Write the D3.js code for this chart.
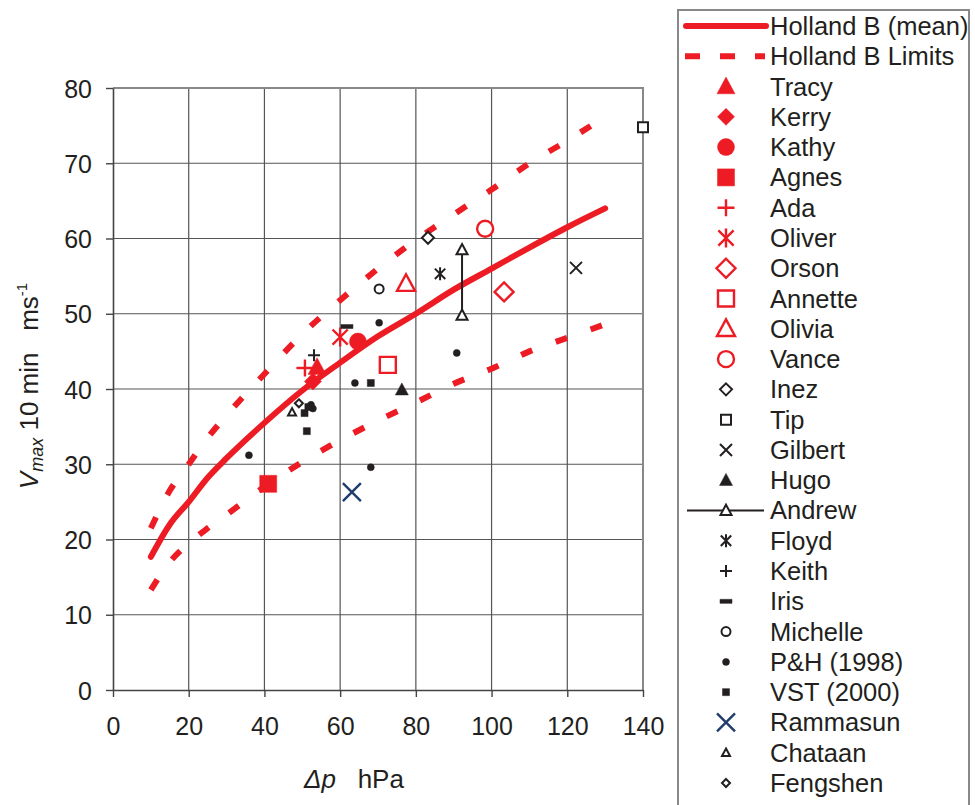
<!DOCTYPE html>
<html>
<head>
<meta charset="utf-8">
<script src="https://cdn.jsdelivr.net/npm/d3@7"></script>
<style>
  body { margin: 0; background: #fff; }
  svg { display: block; }
  text { font-family: "Liberation Sans", Arial, sans-serif; fill: #231f20; }
</style>
</head>
<body>
<svg id="chart" width="975" height="805"></svg>
<script>

// Holland B curves
const hollandDp    = [10, 15, 20, 25, 30, 40, 50, 60, 70, 80, 90, 100, 110, 120, 130];
const hollandMean  = [17.7, 22, 25, 28.2, 30.8, 35.5, 39.8, 43.5, 47, 50, 53.2, 56, 58.8, 61.5, 64];
const hollandUpper = [21.5, 26.5, 30, 33.5, 36.5, 42, 47.3, 51.8, 56, 59.8, 63.2, 66.5, 70, 73, 76.2];
const hollandLower = [13.3, 17, 19.5, 21.5, 23.3, 27, 30.3, 33.2, 35.8, 38.2, 40.7, 42.7, 45, 46.8, 48.6];

// storm observations [dp, vmax]
const tracy    = [[53.9, 42.9]];
const kerry    = [[52.8, 41.0]];
const kathy    = [[64.7, 46.3]];
const agnes    = [[41.0, 27.4]];
const ada      = [[50.7, 42.8]];
const oliver   = [[60.0, 46.9]];
const orson    = [[103.3, 52.9]];
const annette  = [[72.6, 43.2]];
const olivia   = [[77.4, 54.0]];
const vance    = [[98.3, 61.3]];
const inez     = [[83.2, 60.1]];
const tip      = [[140, 74.8]];
const gilbert  = [[122.3, 56.1]];
const hugo     = [[76.3, 39.9]];
const andrew   = [[92.2, 58.5], [92.2, 49.8]];
const floyd    = [[86.4, 55.3]];
const keith    = [[53.1, 44.5]];
const iris     = [[61.8, 48.3]];
const michelle = [[70.3, 53.3]];
const ph1998   = [[70.3, 48.8], [63.9, 40.8], [35.9, 31.2], [68.1, 29.6], [52.3, 37.9], [52.8, 37.4], [90.8, 44.8]];
const vst2000  = [[68.1, 40.8], [51.2, 34.4], [50.6, 36.8], [51.6, 37.6]];
const rammasun = [[63.1, 26.3]];
const chataan  = [[47.3, 36.9]];
const fengshen = [[49.1, 38.1]];

const xTicks = [0, 20, 40, 60, 80, 100, 120, 140];
const yTicks = [0, 10, 20, 30, 40, 50, 60, 70, 80];

const RED = "#ed1c24", BLACK = "#231f20", NAVY = "#1f3d6b";

const series = [
    { name: "Tracy",       pts: tracy,    shape: "triangle", size: 18, color: RED,   fill: true },
    { name: "Kerry",       pts: kerry,    shape: "diamond",  size: 17, color: RED,   fill: true },
    { name: "Kathy",       pts: kathy,    shape: "circle",   size: 17, color: RED,   fill: true },
    { name: "Agnes",       pts: agnes,    shape: "square",   size: 17, color: RED,   fill: true },
    { name: "Ada",         pts: ada,      shape: "plus",     size: 17, color: RED,   fill: false },
    { name: "Oliver",      pts: oliver,   shape: "asterisk", size: 19, color: RED,   fill: false },
    { name: "Orson",       pts: orson,    shape: "diamond",  size: 19, color: RED,   fill: false },
    { name: "Annette",     pts: annette,  shape: "square",   size: 16, color: RED,   fill: false },
    { name: "Olivia",      pts: olivia,   shape: "triangle", size: 18, color: RED,   fill: false },
    { name: "Vance",       pts: vance,    shape: "circle",   size: 16, color: RED,   fill: false },
    { name: "Inez",        pts: inez,     shape: "diamond",  size: 12, color: BLACK, fill: false },
    { name: "Tip",         pts: tip,      shape: "square",   size: 10, color: BLACK, fill: false },
    { name: "Gilbert",     pts: gilbert,  shape: "times",    size: 12, color: BLACK, fill: false },
    { name: "Hugo",        pts: hugo,     shape: "triangle", size: 13, color: BLACK, fill: true },
    { name: "Andrew",      pts: andrew,   shape: "triangle", size: 11, color: BLACK, fill: false, joined: true },
    { name: "Floyd",       pts: floyd,    shape: "asterisk", size: 13, color: BLACK, fill: false },
    { name: "Keith",       pts: keith,    shape: "plus",     size: 12, color: BLACK, fill: false },
    { name: "Iris",        pts: iris,     shape: "dash",     size: 12, color: BLACK, fill: true },
    { name: "Michelle",    pts: michelle, shape: "circle",   size: 9,  color: BLACK, fill: false },
    { name: "P&H (1998)",  pts: ph1998,   shape: "circle",   size: 7,  color: BLACK, fill: true },
    { name: "VST (2000)",  pts: vst2000,  shape: "square",   size: 7,  color: BLACK, fill: true },
    { name: "Rammasun",    pts: rammasun, shape: "times",    size: 18, color: NAVY,  fill: false },
    { name: "Chataan",     pts: chataan,  shape: "triangle", size: 8,  color: BLACK, fill: false },
    { name: "Fengshen",    pts: fengshen, shape: "diamond",  size: 8,  color: BLACK, fill: false }
];

const svg = d3.select("#chart");

const x = d3.scaleLinear().domain([0, 140]).range([113, 643]);
const y = d3.scaleLinear().domain([0, 80]).range([690, 88]);

// grid
svg.append("g")
    .selectAll("line")
    .data(xTicks.slice(1, -1))
    .join("line")
    .attr("x1", d => x(d)).attr("x2", d => x(d))
    .attr("y1", y(0)).attr("y2", y(80))
    .attr("stroke", "#555").attr("stroke-width", 1.2);

svg.append("g")
    .selectAll("line")
    .data(yTicks.slice(1, -1))
    .join("line")
    .attr("x1", x(0)).attr("x2", x(140))
    .attr("y1", d => y(d)).attr("y2", d => y(d))
    .attr("stroke", "#555").attr("stroke-width", 1.2);

// top / right frame
svg.append("path")
    .attr("d", `M${x(0)},${y(80)}H${x(140)}V${y(0)}`)
    .attr("fill", "none").attr("stroke", "#888").attr("stroke-width", 2);

// axes
const xAxis = d3.axisBottom(x).tickValues(xTicks).tickSize(7).tickPadding(20).tickSizeOuter(0);
const yAxis = d3.axisLeft(y).tickValues(yTicks).tickSize(7).tickPadding(14).tickSizeOuter(0);

const gx = svg.append("g").attr("transform", `translate(0,${y(0)})`).call(xAxis);
const gy = svg.append("g").attr("transform", `translate(${x(0)},0)`).call(yAxis);

[gx, gy].forEach(g => {
    g.select(".domain").attr("stroke", "#444").attr("stroke-width", 1.6);
    g.selectAll(".tick line").attr("stroke", "#444").attr("stroke-width", 1.4);
    g.selectAll(".tick text").attr("font-size", 25).attr("fill", BLACK)
        .attr("font-family", "'Liberation Sans', Arial, sans-serif");
});
gx.selectAll(".tick text").attr("dy", "0.71em");
gy.selectAll(".tick text").attr("dy", "0.36em");

// axis titles
const xt = svg.append("text")
    .attr("x", 354).attr("y", 788)
    .attr("text-anchor", "middle").attr("font-size", 26);
xt.append("tspan").attr("font-style", "italic").text("\u0394p");
xt.append("tspan").text("\u00a0\u00a0\u00a0hPa");

const yt = svg.append("text")
    .attr("transform", "translate(38,386) rotate(-90)")
    .attr("text-anchor", "middle").attr("font-size", 26);
yt.append("tspan").attr("font-style", "italic").text("V");
yt.append("tspan").attr("font-style", "italic").attr("font-size", 18).attr("dy", 5).text("max");
yt.append("tspan").attr("dy", -5).text(" 10 min \u00a0\u00a0ms");
yt.append("tspan").attr("font-size", 15).attr("dy", -11).text("-1");

// Holland curves
const line = d3.line().x(d => x(d[0])).y(d => y(d[1])).curve(d3.curveMonotoneX);
const zipCurve = vals => hollandDp.map((d, i) => [d, vals[i]]);

svg.append("path")
    .attr("d", line(zipCurve(hollandUpper)))
    .attr("fill", "none").attr("stroke", RED).attr("stroke-width", 6)
    .attr("stroke-dasharray", "12,25");
svg.append("path")
    .attr("d", line(zipCurve(hollandLower)))
    .attr("fill", "none").attr("stroke", RED).attr("stroke-width", 6)
    .attr("stroke-dasharray", "12,25");
svg.append("path")
    .attr("d", line(zipCurve(hollandMean)))
    .attr("fill", "none").attr("stroke", RED).attr("stroke-width", 6)
    .attr("stroke-linecap", "round");

// marker shapes
function shapePath(shape, s) {
    const h = s / 2;
    switch (shape) {
        case "triangle": return `M0,${-h * 1.05}L${h},${h * 0.8}L${-h},${h * 0.8}Z`;
        case "diamond":  return `M0,${-h}L${h},0L0,${h}L${-h},0Z`;
        case "square":   return `M${-h},${-h}H${h}V${h}H${-h}Z`;
        case "plus":     return `M${-h},0H${h}M0,${-h}V${h}`;
        case "times":    return `M${-h},${-h}L${h},${h}M${h},${-h}L${-h},${h}`;
        case "asterisk": {
            const k = h * 0.8;
            return `M${-k},${-k}L${k},${k}M${k},${-k}L${-k},${k}M0,${-h}V${h}`;
        }
        case "dash":     return `M${-h},-2H${h}V2H${-h}Z`;
        case "circle": {
            const p = d3.path();
            p.arc(0, 0, h, 0, 2 * Math.PI);
            p.closePath();
            return p.toString();
        }
    }
}

function styleMarker(sel, s) {
    const strokeOnly = s.shape === "plus" || s.shape === "times" || s.shape === "asterisk";
    sel.attr("d", shapePath(s.shape, s.size))
        .attr("fill", s.fill ? s.color : (strokeOnly ? "none" : "#fff"))
        .attr("stroke", s.color)
        .attr("stroke-width", s.fill && !strokeOnly ? 0.5 : (s.size > 14 ? 2.4 : 2));
}

// markers
const markers = svg.append("g");
series.forEach(s => {
    if (s.joined) {
        markers.append("path")
            .attr("d", d3.line().x(d => x(d[0])).y(d => y(d[1]))(s.pts))
            .attr("stroke", s.color).attr("stroke-width", 2).attr("fill", "none");
    }
    markers.selectAll(null)
        .data(s.pts)
        .join("path")
        .attr("transform", d => `translate(${x(d[0])},${y(d[1])})`)
        .call(styleMarker, s);
});

// legend
const legend = svg.append("g");
legend.append("rect")
    .attr("x", 678).attr("y", 10).attr("width", 291).attr("height", 820)
    .attr("fill", "#fff").attr("stroke", "#888").attr("stroke-width", 2);

const legendRows = [
    { name: "Holland B (mean)", kind: "mean" },
    { name: "Holland B Limits", kind: "limits" }
].concat(series.map(s => ({ name: s.name, kind: "marker", s })));

const rowY = d3.scaleLinear().domain([0, 1]).range([35, 65.28]);

legendRows.forEach((r, i) => {
    const by = rowY(i);
    const cy = by - 9;
    if (r.kind === "mean") {
        legend.append("line")
            .attr("x1", 686).attr("x2", 766).attr("y1", cy).attr("y2", cy)
            .attr("stroke", RED).attr("stroke-width", 6).attr("stroke-linecap", "round");
    } else if (r.kind === "limits") {
        legend.append("line")
            .attr("x1", 685).attr("x2", 765).attr("y1", cy).attr("y2", cy)
            .attr("stroke", RED).attr("stroke-width", 6).attr("stroke-dasharray", "15,20");
    } else {
        if (r.s.joined) {
            legend.append("line")
                .attr("x1", 687).attr("x2", 764).attr("y1", cy).attr("y2", cy)
                .attr("stroke", r.s.color).attr("stroke-width", 2);
        }
        legend.append("path")
            .attr("transform", `translate(726,${cy})`)
            .call(styleMarker, r.s);
    }
    legend.append("text")
        .attr("x", 770).attr("y", by)
        .attr("font-size", 25.5)
        .text(r.name);
});

</script>
</body>
</html>
